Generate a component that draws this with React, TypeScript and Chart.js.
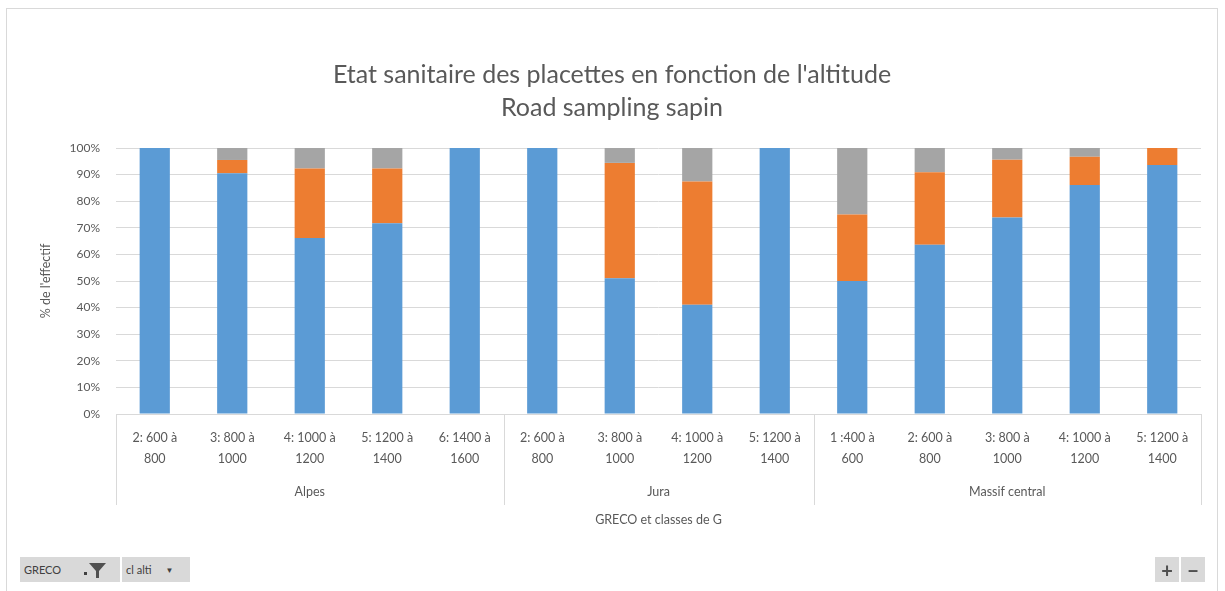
import React, { useEffect, useRef } from "react";
import { Chart, registerables } from "chart.js";

Chart.register(...registerables);

// Altitude classes, grouped by GRECO region
const classLabels: string[][] = [
  ["2: 600 à", "800"],
  ["3: 800 à", "1000"],
  ["4: 1000 à", "1200"],
  ["5: 1200 à", "1400"],
  ["6: 1400 à", "1600"],
  ["2: 600 à", "800"],
  ["3: 800 à", "1000"],
  ["4: 1000 à", "1200"],
  ["5: 1200 à", "1400"],
  ["1 :400 à", "600"],
  ["2: 600 à", "800"],
  ["3: 800 à", "1000"],
  ["4: 1000 à", "1200"],
  ["5: 1200 à", "1400"],
];

const grecoNames = ["Alpes", "Jura", "Massif central"];
const grecoSizes = [5, 4, 5];

// Share of plots (%) in each health state
const sain = [100, 90.5, 66.2, 71.7, 100, 100, 51.0, 41.1, 100, 50.0, 63.6, 73.9, 86.1, 93.6];
const deperissant = [0, 5.0, 26.1, 20.6, 0, 0, 43.4, 46.3, 0, 25.0, 27.3, 21.7, 10.6, 6.4];
const mort = [0, 4.5, 7.7, 7.7, 0, 0, 5.6, 12.6, 0, 25.0, 9.1, 4.4, 3.3, 0];

const seriesNames = ["Sain", "Dépérissant", "Mort"];
const seriesColors = ["#5B9BD5", "#ED7D31", "#A5A5A5"];

const yTicks = [0, 10, 20, 30, 40, 50, 60, 70, 80, 90, 100];

const TEXT = "#595959";
const LINE = "#d9d9d9";
const FONT = "Lato, 'Open Sans', sans-serif";

// Second level of the category axis: region names with separators
const grecoAxisPlugin = {
  id: "grecoAxis",
  afterDraw(chart: any) {
    const { ctx, chartArea } = chart;
    const x = chart.scales.x;
    const bottomLine = 505;
    const labelY = 492;
    ctx.save();
    ctx.strokeStyle = LINE;
    ctx.lineWidth = 1;
    ctx.fillStyle = TEXT;
    ctx.font = `12.5px ${FONT}`;
    ctx.textAlign = "center";
    ctx.textBaseline = "middle";

    const edges: number[] = [x.left];
    let idx = 0;
    grecoSizes.forEach((n, g) => {
      const last = idx + n - 1;
      idx += n;
      const right =
        g === grecoSizes.length - 1
          ? x.right
          : (x.getPixelForValue(last) + x.getPixelForValue(last + 1)) / 2;
      edges.push(right);
      const left = edges[g];
      ctx.fillText(grecoNames[g], (left + right) / 2, labelY);
    });

    edges.forEach((px) => {
      const xx = Math.round(px) + 0.5;
      ctx.beginPath();
      ctx.moveTo(xx, chartArea.bottom);
      ctx.lineTo(xx, bottomLine);
      ctx.stroke();
    });
    ctx.restore();
  },
};

function StackedChart() {
  const canvasRef = useRef<HTMLCanvasElement | null>(null);

  useEffect(() => {
    const canvas = canvasRef.current;
    if (!canvas) return;
    const data = [sain, deperissant, mort];
    const chart = new Chart(canvas, {
      type: "bar",
      data: {
        labels: classLabels,
        datasets: data.map((values, i) => ({
          label: seriesNames[i],
          data: values,
          backgroundColor: seriesColors[i],
          borderWidth: 0,
          barPercentage: 0.39,
          categoryPercentage: 1,
        })),
      },
      options: {
        animation: false,
        responsive: false,
        maintainAspectRatio: false,
        layout: { padding: { left: 23, right: 24, top: 58, bottom: 0 } },
        plugins: {
          legend: { display: false },
          tooltip: { enabled: false },
          title: {
            display: true,
            text: [
              "Etat sanitaire des placettes en fonction de l'altitude",
              "Road sampling sapin",
            ],
            color: TEXT,
            font: { family: FONT, size: 25, weight: "normal", lineHeight: "33px" as any },
            padding: { top: 0, bottom: 24 },
          },
        },
        scales: {
          x: {
            stacked: true,
            grid: { display: false, drawTicks: false },
            border: { display: true, color: LINE, width: 1 },
            ticks: {
              color: TEXT,
              font: { family: FONT, size: 12.5, lineHeight: 1.7 },
              padding: 13,
              maxRotation: 0,
              minRotation: 0,
              autoSkip: false,
            },
            title: {
              display: true,
              text: "GRECO et classes de G",
              color: TEXT,
              font: { family: FONT, size: 12.5 },
              padding: { top: 0, bottom: 64 },
            },
            afterFit: (scale: any) => {
              scale.height = 177;
            },
          },
          y: {
            stacked: true,
            min: 0,
            max: 100,
            afterBuildTicks: (scale: any) => {
              scale.ticks = yTicks.map((v) => ({ value: v }));
            },
            grid: { color: LINE, lineWidth: 1, drawTicks: false },
            border: { display: false },
            ticks: {
              color: TEXT,
              font: { family: FONT, size: 12 },
              padding: 16,
              callback: (v: any) => `${v}%`,
            },
            title: {
              display: true,
              text: "% de l'effectif",
              color: TEXT,
              font: { family: FONT, size: 12.5 },
              padding: { top: 15, bottom: 0 },
            },
            afterFit: (scale: any) => {
              scale.width = 93;
            },
          },
        },
      },
      plugins: [grecoAxisPlugin],
    });
    return () => chart.destroy();
  }, []);

  return <canvas ref={canvasRef} width={1225} height={591} style={{ display: "block" }} />;
}

const btn: React.CSSProperties = {
  background: "#d9d9d9",
  color: "#404040",
  fontFamily: FONT,
  fontSize: 11,
  height: 25,
  display: "flex",
  alignItems: "center",
  boxSizing: "border-box",
};

export default function App() {
  return (
    <div
      style={{
        position: "fixed",
        left: 0,
        top: 0,
        width: 1225,
        height: 591,
        background: "#ffffff",
        overflow: "hidden",
      }}
    >
      <StackedChart />
      <div
        style={{
          position: "absolute",
          left: 6,
          top: 8,
          width: 1212,
          height: 610,
          border: `1px solid ${LINE}`,
          boxSizing: "border-box",
          pointerEvents: "none",
        }}
      />
      <div style={{ position: "absolute", left: 20, top: 557, display: "flex", gap: 2 }}>
        <div style={{ ...btn, width: 100, paddingLeft: 4 }}>
          <span>GRECO</span>
          <svg width="36" height="22" viewBox="0 0 36 22" style={{ marginLeft: 20 }}>
            <rect x="3" y="13" width="3" height="3" fill="#404040" />
            <path d="M8 4 H25 L18 12 V19 H15 V12 Z" fill="#505050" />
          </svg>
        </div>
        <div style={{ ...btn, width: 68, paddingLeft: 4 }}>
          <span>cl alti</span>
          <span style={{ marginLeft: 14, fontSize: 8 }}>▼</span>
        </div>
      </div>
      <div style={{ position: "absolute", left: 1155, top: 557, display: "flex", gap: 2 }}>
        <div style={{ ...btn, width: 24, justifyContent: "center", fontSize: 20, fontWeight: 700, color: "#505050" }}>+</div>
        <div style={{ ...btn, width: 24, justifyContent: "center", fontSize: 20, fontWeight: 700, color: "#505050" }}>−</div>
      </div>
    </div>
  );
}
